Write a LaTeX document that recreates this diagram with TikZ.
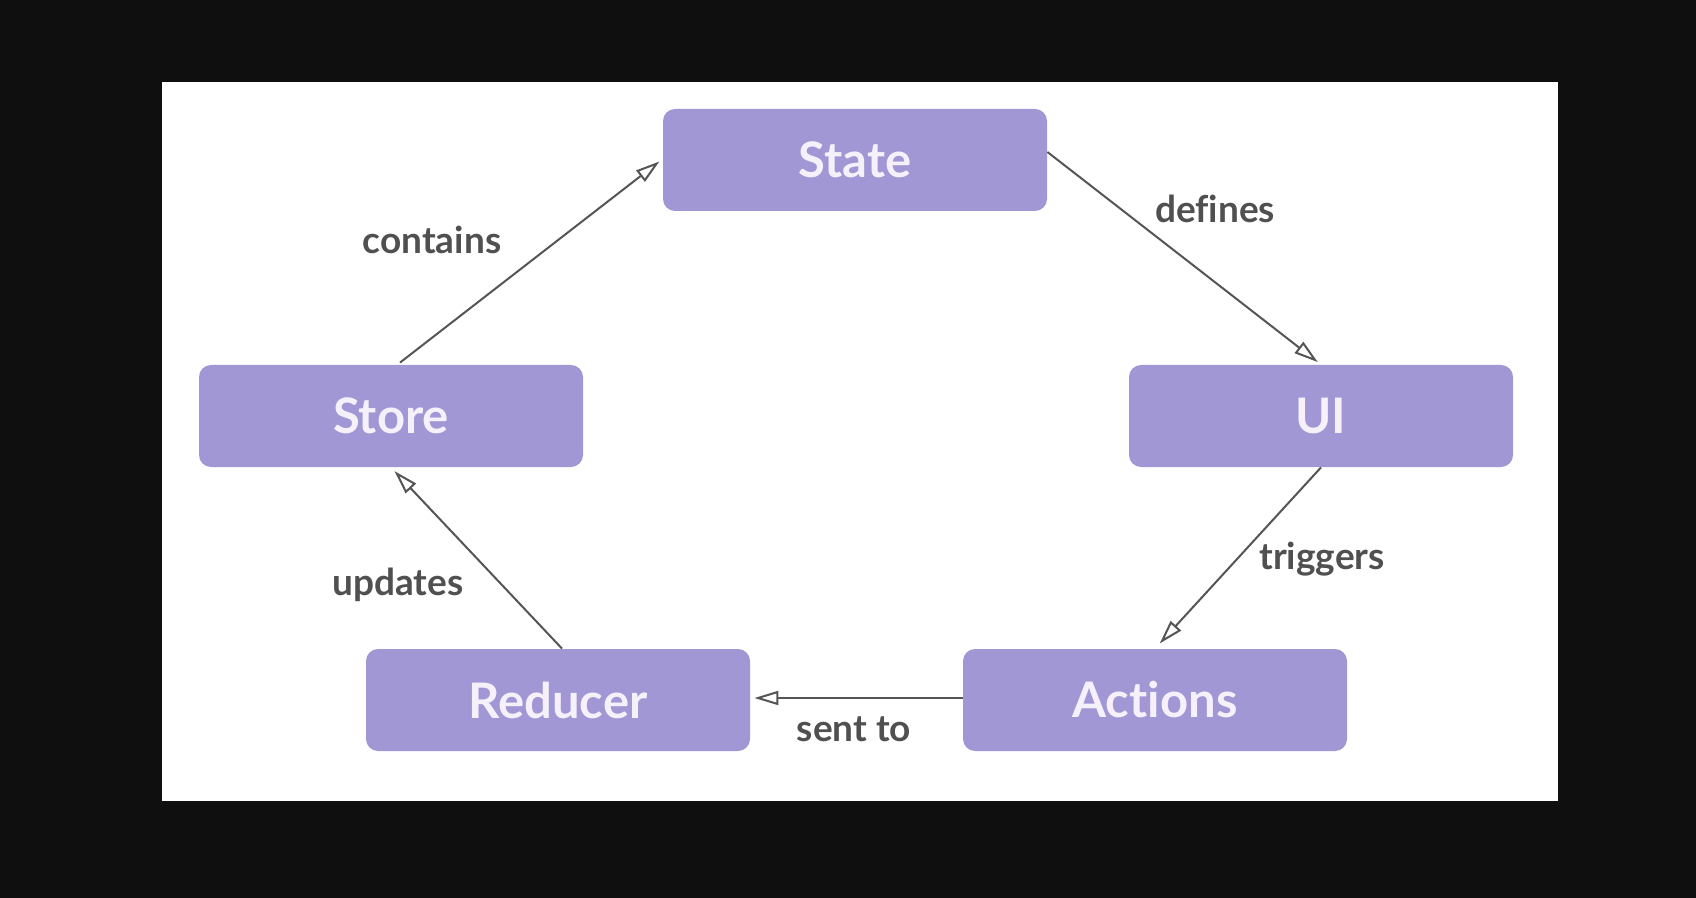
\documentclass[tikz,border=0pt]{standalone}
\usepackage{fontspec}
\setmainfont[Ligatures={NoCommon}]{Lato}
\usetikzlibrary{arrows.meta}
\definecolor{bgdark}{HTML}{0F0F0F}
\definecolor{boxfill}{HTML}{A097D4}
\definecolor{boxtext}{HTML}{F5F0FA}
\definecolor{edgecol}{HTML}{555555}
\definecolor{labcol}{HTML}{505050}
\begin{document}
\begin{tikzpicture}[x=0.5pt,y=-0.5pt,
  box/.style={draw=none,fill=boxfill,rounded corners=6pt,minimum width=192pt,minimum height=51pt,
    inner sep=0pt,text=boxtext,font=\fontsize{24.5}{28}\selectfont\bfseries},
  edge/.style={draw=edgecol,line width=1pt,-{Triangle[open,length=12pt,width=7pt]},shorten >=2pt},
  lab/.style={text=labcol,font=\fontsize{18.5}{22}\selectfont\bfseries,inner sep=0pt}]
\fill[bgdark] (0,0) rectangle (1696,898);
\fill[white] (162,82) rectangle (1558,801);
\useasboundingbox (0,0) rectangle (1696,898);
\node[box] (State) at (855,160) {State};
\node[box] (UI) at (1321,416) {UI};
\node[box] (Store) at (391,416) {Store};
\node[box] (Reducer) at (558,700) {Reducer};
\node[box] (Actions) at (1155,700) {Actions};
\draw[edge] ([xshift=4.5pt,yshift=1pt]Store.north) -- ([yshift=0.5pt]State.west);
\draw[edge] ([yshift=4pt]State.east) -- (UI.north);
\draw[edge,shorten >=3.5pt] (UI.south) -- (Actions.north);
\draw[edge] ([yshift=1pt]Actions.west) -- ([yshift=1pt]Reducer.east);
\draw[edge,shorten >=2.5pt] ([xshift=2pt]Reducer.north) -- (Store.south);
\node[lab] (lcontains) at (432,240) {contains};
\node[lab] (ldefines) at (1215,209) {defines};
\node[lab] (ltriggers) at (1322,559) {triggers};
\node[lab] (lsent) at (854,729) {sent to};
\node[lab] (lupdates) at (398,585) {updates};
\end{tikzpicture}
\end{document}
